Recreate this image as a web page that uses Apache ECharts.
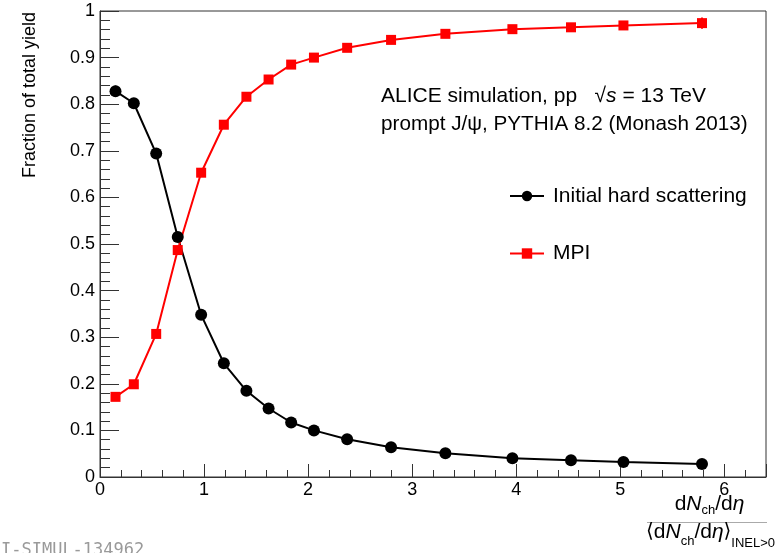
<!DOCTYPE html>
<html>
<head>
<meta charset="utf-8">
<script src="https://cdn.jsdelivr.net/npm/echarts@6/dist/echarts.min.js"></script>
<style>
  html, body { margin: 0; padding: 0; background: #fff; }
  #chart { width: 776px; height: 553px; }
</style>
</head>
<body>
<div id="chart"></div>
<script>
// Self-normalised charged-particle multiplicity of each bin
const multiplicity = [0.149, 0.325, 0.540, 0.747, 0.972, 1.190, 1.407, 1.620, 1.837, 2.056, 2.375, 2.797, 3.319, 3.963, 4.526, 5.030, 5.785];
// Fraction of prompt J/psi yield from the initial hard scattering
const hardScattering = [0.828, 0.802, 0.694, 0.515, 0.348, 0.244, 0.185, 0.147, 0.117, 0.100, 0.081, 0.064, 0.051, 0.040, 0.036, 0.032, 0.028];
const hardScatteringErr = [0.012, 0.005, 0.005, 0.005, 0.004, 0.004, 0.003, 0.003, 0.003, 0.003, 0.003, 0.002, 0.002, 0.002, 0.003, 0.003, 0.005];
// Fraction of prompt J/psi yield from multi-parton interactions
const mpi = [0.172, 0.199, 0.307, 0.487, 0.653, 0.756, 0.816, 0.853, 0.885, 0.900, 0.921, 0.938, 0.951, 0.961, 0.965, 0.969, 0.974];
const mpiErr = [0.008, 0.005, 0.005, 0.005, 0.004, 0.004, 0.003, 0.003, 0.003, 0.003, 0.003, 0.002, 0.002, 0.002, 0.003, 0.003, 0.012];

const xTickLabels = ['0', '1', '2', '3', '4', '5', '6'];
const yTickLabels = ['0', '0.1', '0.2', '0.3', '0.4', '0.5', '0.6', '0.7', '0.8', '0.9', '1'];

const FONT = 'Liberation Sans';
const AXIS_COLOR = '#333';

function pairs(xs, ys) {
  return xs.map((x, i) => [x, ys[i]]);
}

function errorBars(name, xs, ys, errs, color) {
  return {
    type: 'custom',
    name: name,
    silent: true,
    z: 1,
    xAxisIndex: 0,
    yAxisIndex: 0,
    data: xs.map((x, i) => [x, ys[i] - errs[i], ys[i] + errs[i]]),
    renderItem(params, api) {
      const lo = api.coord([api.value(0), api.value(1)]);
      const hi = api.coord([api.value(0), api.value(2)]);
      return {
        type: 'line',
        shape: { x1: lo[0], y1: lo[1], x2: hi[0], y2: hi[1] },
        style: { stroke: color, lineWidth: 2 }
      };
    }
  };
}

const chart = echarts.init(document.getElementById('chart'), null, { renderer: 'canvas' });

const normal = { fontFamily: FONT, fontSize: 21, lineHeight: 24, verticalAlign: 'top', fill: '#000' };
const italic = Object.assign({}, normal, { fontStyle: 'italic' });

chart.setOption({
  animation: false,
  backgroundColor: '#fff',
  textStyle: { fontFamily: FONT, color: '#000' },
  grid: {
    left: 100, right: 10, top: 11, bottom: 76,
    show: true, borderColor: AXIS_COLOR, borderWidth: 1,
    backgroundColor: 'transparent'
  },
  xAxis: [
    {
      type: 'value', min: 0, max: 6.4, interval: 1,
      axisLine: { show: true, onZero: false, lineStyle: { color: AXIS_COLOR, width: 1 } },
      axisTick: { show: true, inside: true, length: 13, lineStyle: { color: AXIS_COLOR, width: 1 } },
      axisLabel: {
        margin: 4, fontSize: 18, color: '#000', fontFamily: FONT,
        formatter: v => (Number.isInteger(v) ? xTickLabels[v] : '')
      },
      splitLine: { show: false }
    },
    {
      // finer ticks every 0.2
      type: 'value', min: 0, max: 6.4, interval: 0.2, position: 'bottom',
      axisLine: { show: false },
      axisTick: { show: true, inside: true, length: 7, lineStyle: { color: AXIS_COLOR, width: 1 } },
      axisLabel: { show: false },
      splitLine: { show: false }
    }
  ],
  yAxis: {
    type: 'value', min: 0, max: 1, interval: 0.1,
    axisLine: { show: true, onZero: false, lineStyle: { color: AXIS_COLOR, width: 1 } },
    axisTick: { show: true, inside: true, length: 19, lineStyle: { color: AXIS_COLOR, width: 1 } },
    minorTick: { show: true, splitNumber: 5, length: 10, lineStyle: { color: AXIS_COLOR, width: 1 } },
    axisLabel: {
      margin: 5, fontSize: 18, color: '#000', fontFamily: FONT,
      formatter: v => yTickLabels[Math.round(v * 10)]
    },
    splitLine: { show: false }
  },
  legend: {
    orient: 'vertical', left: 509, top: 184, padding: 0,
    itemWidth: 34, itemHeight: 13, itemGap: 33.5,
    data: ['Initial hard scattering', 'MPI'],
    textStyle: { fontFamily: FONT, fontSize: 21, color: '#000', lineHeight: 24, padding: [0, 0, 0, 4] }
  },
  series: [
    errorBars('hard-scattering-err', multiplicity, hardScattering, hardScatteringErr, '#000'),
    errorBars('mpi-err', multiplicity, mpi, mpiErr, '#ff0000'),
    {
      name: 'Initial hard scattering',
      type: 'line',
      data: pairs(multiplicity, hardScattering),
      symbol: 'circle', symbolSize: 12,
      lineStyle: { color: '#000', width: 2 },
      itemStyle: { color: '#000' },
      z: 3
    },
    {
      name: 'MPI',
      type: 'line',
      data: pairs(multiplicity, mpi),
      symbol: 'rect', symbolSize: 10,
      lineStyle: { color: '#ff0000', width: 2 },
      itemStyle: { color: '#ff0000' },
      z: 3
    }
  ],
  graphic: [
    {
      type: 'text', x: 30, y: 12, rotation: Math.PI / 2,
      style: {
        text: 'Fraction of total yield', fontFamily: FONT, fontSize: 18, fill: '#000',
        align: 'right', verticalAlign: 'middle'
      }
    },
    {
      type: 'text', x: 381, y: 96,
      style: {
        text: '{n|ALICE simulation, pp   √}{i|s}{n| = 13 TeV}',
        verticalAlign: 'middle', align: 'left',
        rich: { n: Object.assign({}, normal, { verticalAlign: 'middle' }), i: Object.assign({}, italic, { verticalAlign: 'middle' }) }
      }
    },
    {
      type: 'text', x: 381, y: 124.5,
      style: {
        text: 'prompt J/ψ, PYTHIA 8.2 (Monash 2013)',
        fontFamily: FONT, fontSize: 20.7, fill: '#000',
        verticalAlign: 'middle', align: 'left'
      }
    },
    // x-axis title: dN_ch/deta over its INEL>0 mean
    {
      type: 'text', x: 709.5, y: 493.8,
      style: {
        text: '{n|d}{i|N}{s|ch}{n|/d}{i|η}',
        align: 'center', verticalAlign: 'top',
        rich: {
          n: normal, i: italic,
          s: { fontFamily: FONT, fontSize: 13, lineHeight: 13, padding: [10.5, 0, 0, 0], verticalAlign: 'top', fill: '#000' }
        }
      }
    },
    {
      type: 'line',
      shape: { x1: 647, y1: 522.5, x2: 767, y2: 522.5 },
      style: { stroke: '#aaa', lineWidth: 1 }
    },
    {
      type: 'text', x: 646, y: 521.5,
      style: {
        text: '{b|⟨}{n|d}{i|N}{s|ch}{n|/d}{i|η}{b|⟩}{t|INEL>0}',
        align: 'left', verticalAlign: 'top',
        rich: {
          n: normal, i: italic,
          b: { fontFamily: 'DejaVu Sans', fontSize: 20, lineHeight: 24, verticalAlign: 'top', fill: '#000' },
          s: { fontFamily: FONT, fontSize: 13, lineHeight: 13, padding: [13.3, 0, 0, 0], verticalAlign: 'top', fill: '#000' },
          t: { fontFamily: FONT, fontSize: 13, lineHeight: 13, padding: [15.3, 0, 0, 0], verticalAlign: 'top', fill: '#000' }
        }
      }
    },
    {
      type: 'text', x: -19.5, y: 551,
      style: {
        text: 'ALI-SIMUL-134962',
        fontFamily: 'DejaVu Sans Mono', fontSize: 17, fill: '#9a9a9a',
        align: 'left', verticalAlign: 'middle'
      }
    }
  ]
});
</script>
</body>
</html>
